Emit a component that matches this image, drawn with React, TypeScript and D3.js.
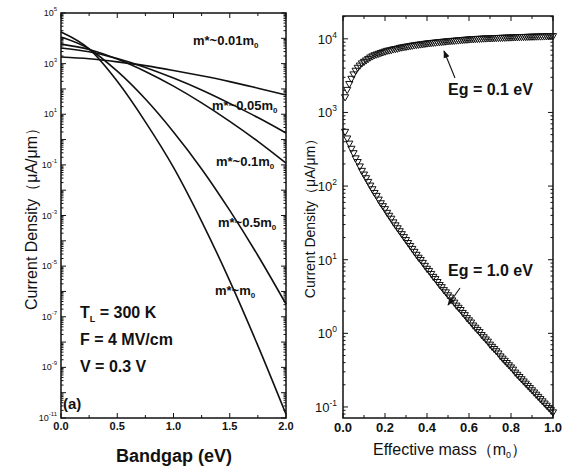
import React, { useEffect, useRef } from "react";
import * as d3 from "d3";

// ---- left panel: current density vs bandgap (log10 of uA/um) ----
const bandgapEv = [0, 0.25, 0.5, 0.75, 1.0, 1.25, 1.5, 1.75, 2.0];
const logJ_m001 = [3.26, 3.19, 3.07, 2.92, 2.73, 2.52, 2.29, 2.03, 1.76];
const logJ_m005 = [3.62, 3.47, 3.2, 2.85, 2.43, 1.96, 1.43, 0.87, 0.26];
const logJ_m01 = [3.77, 3.56, 3.18, 2.69, 2.11, 1.45, 0.72, -0.07, -0.93];
const logJ_m05 = [4.05, 3.58, 2.7, 1.6, 0.3, -1.16, -2.8, -4.58, -6.5];
const logJ_m1 = [4.25, 3.58, 2.3, 0.7, -1.1, -3.23, -5.58, -8.14, -10.85];

const leftSeries = [logJ_m001, logJ_m005, logJ_m01, logJ_m05, logJ_m1];
const leftLabels = [
  { main: "m*~0.01m", x: 193, y: 45 },
  { main: "m*~0.05m", x: 212, y: 110 },
  { main: "m*~0.1m", x: 216, y: 166 },
  { main: "m*~0.5m", x: 218, y: 227 },
  { main: "m*~m", x: 215, y: 295 },
];

// ---- right panel: current density vs effective mass, 0.01 .. 1.00 step 0.01 ----
const massStep = 0.01;
const logJ_eg01 = [
  3.2, 3.3, 3.38, 3.45, 3.51, 3.56, 3.6, 3.63, 3.66, 3.68,
  3.7, 3.72, 3.74, 3.755, 3.77, 3.78, 3.79, 3.8, 3.81, 3.82,
  3.83, 3.835, 3.84, 3.85, 3.855, 3.86, 3.87, 3.875, 3.88, 3.885,
  3.89, 3.895, 3.9, 3.905, 3.91, 3.913, 3.917, 3.92, 3.925, 3.93,
  3.933, 3.936, 3.939, 3.942, 3.945, 3.948, 3.951, 3.954, 3.957, 3.96,
  3.962, 3.965, 3.967, 3.97, 3.972, 3.975, 3.977, 3.98, 3.982, 3.985,
  3.987, 3.988, 3.99, 3.992, 3.993, 3.995, 3.997, 3.998, 4.0, 4.0,
  4.001, 4.002, 4.004, 4.005, 4.006, 4.007, 4.008, 4.01, 4.011, 4.012,
  4.013, 4.014, 4.015, 4.016, 4.017, 4.018, 4.019, 4.02, 4.021, 4.022,
  4.023, 4.024, 4.025, 4.025, 4.026, 4.027, 4.028, 4.028, 4.029, 4.03,
];
const logJ_eg10 = [
  2.73, 2.64, 2.57, 2.5, 2.44, 2.37, 2.32, 2.26, 2.2, 2.15,
  2.1, 2.05, 2.0, 1.95, 1.9, 1.86, 1.81, 1.76, 1.72, 1.68,
  1.63, 1.59, 1.55, 1.5, 1.46, 1.42, 1.38, 1.34, 1.3, 1.26,
  1.22, 1.18, 1.14, 1.1, 1.06, 1.02, 0.99, 0.95, 0.91, 0.87,
  0.84, 0.8, 0.76, 0.73, 0.69, 0.65, 0.62, 0.58, 0.55, 0.51,
  0.48, 0.44, 0.41, 0.37, 0.34, 0.31, 0.27, 0.24, 0.2, 0.17,
  0.14, 0.1, 0.07, 0.04, 0.01, -0.03, -0.06, -0.09, -0.12, -0.16,
  -0.19, -0.22, -0.25, -0.28, -0.32, -0.35, -0.38, -0.41, -0.44, -0.47,
  -0.5, -0.54, -0.57, -0.6, -0.63, -0.66, -0.69, -0.72, -0.75, -0.78,
  -0.81, -0.84, -0.87, -0.9, -0.93, -0.96, -0.99, -1.02, -1.05, -1.08,
];

const leftXTicks = [0, 0.5, 1.0, 1.5, 2.0];
const leftYLabelExp = [5, 3, 1, -1, -3, -5, -7, -9, -11];
const rightXTicks = [0, 0.2, 0.4, 0.6, 0.8, 1.0];
const rightYLabelExp = [4, 3, 2, 1, 0, -1];

const FONT = "'Liberation Sans', Arial, sans-serif";

const App = () => {
  const svgRef = useRef<SVGSVGElement>(null);

  useEffect(() => {
    const svg = d3.select(svgRef.current);
    svg.selectAll("*").remove();

    const xL = d3.scaleLinear().domain([0, 2]).range([61, 286]);
    const yL = d3.scaleLog().domain([1e-11, 1e5]).range([418, 13]);
    const xR = d3.scaleLinear().domain([0, 1]).range([343, 553]);
    const yR = d3
      .scaleLog()
      .domain([Math.pow(10, -1.15), Math.pow(10, 4.31)])
      .range([418, 16]);

    svg
      .append("defs")
      .append("marker")
      .attr("id", "arrowhead")
      .attr("viewBox", "0 0 10 10")
      .attr("refX", 9)
      .attr("refY", 5)
      .attr("markerWidth", 7)
      .attr("markerHeight", 7)
      .attr("orient", "auto")
      .append("path")
      .attr("d", "M0,1 L10,5 L0,9 Z")
      .attr("fill", "#111");

    // frame + inward ticks for one panel
    const drawFrame = (x, y, xMinor, xMajorEvery, decades) => {
      const [x0, x1] = x.range();
      const [y0, y1] = y.range();
      const g = svg.append("g").attr("stroke", "#111").attr("fill", "none");
      g.append("rect")
        .attr("x", x0)
        .attr("y", y1)
        .attr("width", x1 - x0)
        .attr("height", y0 - y1)
        .attr("stroke-width", 1.5);

      xMinor.forEach((v, i) => {
        const len = i % xMajorEvery === 0 ? 5 : 3;
        const px = x(v);
        g.append("line").attr("x1", px).attr("x2", px).attr("y1", y0).attr("y2", y0 - len);
        g.append("line").attr("x1", px).attr("x2", px).attr("y1", y1).attr("y2", y1 + len);
      });

      const [dlo, dhi] = y.domain();
      decades.forEach((e) => {
        for (let k = 1; k <= 9; k++) {
          const v = k * Math.pow(10, e);
          if (v < dlo * 0.999 || v > dhi * 1.001) continue;
          const len = k === 1 ? 5 : 2.5;
          const py = y(v);
          g.append("line").attr("x1", x0).attr("x2", x0 + len).attr("y1", py).attr("y2", py);
          g.append("line").attr("x1", x1).attr("x2", x1 - len).attr("y1", py).attr("y2", py);
        }
      });
    };

    drawFrame(xL, yL, d3.range(0, 2.001, 0.25), 2, d3.range(-11, 6));
    drawFrame(xR, yR, d3.range(0, 1.001, 0.1), 2, d3.range(-2, 5));

    // ---- left curves ----
    const lineL = d3
      .line<number>()
      .x((_, i) => xL(bandgapEv[i]))
      .y((d) => yL(Math.pow(10, d)))
      .curve(d3.curveMonotoneX);

    svg
      .append("g")
      .selectAll("path")
      .data(leftSeries)
      .join("path")
      .attr("d", (d) => lineL(d))
      .attr("fill", "none")
      .attr("stroke", "#111")
      .attr("stroke-width", 1.6);

    // ---- right markers (open down-triangles) ----
    const tri = "M-3.6,-3 L3.6,-3 L0,3.2 Z";
    [logJ_eg01, logJ_eg10].forEach((series) => {
      svg
        .append("g")
        .selectAll("path")
        .data(series)
        .join("path")
        .attr("d", tri)
        .attr(
          "transform",
          (d, i) => `translate(${xR((i + 1) * massStep)},${yR(Math.pow(10, d))})`
        )
        .attr("fill", "none")
        .attr("stroke", "#111")
        .attr("stroke-width", 1);
    });

    // ---- tick labels ----
    const txt = svg.append("g").attr("font-family", FONT).attr("fill", "#111");

    leftXTicks.forEach((v) => {
      txt
        .append("text")
        .attr("x", xL(v))
        .attr("y", 430)
        .attr("text-anchor", "middle")
        .attr("font-size", 11)
        .attr("font-weight", "bold")
        .text(v.toFixed(1));
    });

    leftYLabelExp.forEach((e) => {
      const t = txt
        .append("text")
        .attr("x", 57)
        .attr("y", yL(Math.pow(10, e)) + 3)
        .attr("text-anchor", "end")
        .attr("font-size", 9);
      t.append("tspan").text("10");
      t.append("tspan").attr("dy", -5).attr("font-size", 6).text(String(e));
    });

    rightXTicks.forEach((v) => {
      txt
        .append("text")
        .attr("x", xR(v))
        .attr("y", 432)
        .attr("text-anchor", "middle")
        .attr("font-size", 13)
        .attr("font-weight", "bold")
        .text(v.toFixed(1));
    });

    rightYLabelExp.forEach((e) => {
      const t = txt
        .append("text")
        .attr("x", 337)
        .attr("y", yR(Math.pow(10, e)) + 5)
        .attr("text-anchor", "end")
        .attr("font-size", 13);
      t.append("tspan").text("10");
      t.append("tspan").attr("dy", -6).attr("font-size", 8.5).text(String(e));
    });

    // ---- axis titles ----
    txt
      .append("text")
      .attr("x", 174)
      .attr("y", 462)
      .attr("text-anchor", "middle")
      .attr("font-size", 18)
      .attr("font-weight", "bold")
      .text("Bandgap (eV)");

    txt
      .append("text")
      .attr("transform", `translate(37,215) rotate(-90)`)
      .attr("text-anchor", "middle")
      .attr("font-size", 16)
      .text("Current Density（μA/μm）");

    txt
      .append("text")
      .attr("transform", `translate(315,215) rotate(-90)`)
      .attr("text-anchor", "middle")
      .attr("font-size", 14)
      .text("Current Density（μA/μm）");

    const effT = txt
      .append("text")
      .attr("x", 450)
      .attr("y", 455)
      .attr("text-anchor", "middle")
      .attr("font-size", 16);
    effT.append("tspan").text("Effective mass（m");
    effT.append("tspan").attr("dy", 3).attr("font-size", 9).text("0");
    effT.append("tspan").attr("dy", -3).text("）");

    // ---- curve labels (left) ----
    leftLabels.forEach((l) => {
      const t = txt
        .append("text")
        .attr("x", l.x)
        .attr("y", l.y)
        .attr("font-size", 13)
        .attr("font-weight", "bold");
      t.append("tspan").text(l.main);
      t.append("tspan").attr("dy", 3).attr("font-size", 8).text("0");
    });

    // ---- conditions ----
    const cond = txt.append("g").attr("font-size", 16).attr("font-weight", "bold");
    const t1 = cond.append("text").attr("x", 80).attr("y", 318);
    t1.append("tspan").text("T");
    t1.append("tspan").attr("dy", 4).attr("font-size", 9).text("L");
    t1.append("tspan").attr("dy", -4).text(" = 300 K");
    cond.append("text").attr("x", 80).attr("y", 345).text("F  = 4 MV/cm");
    cond.append("text").attr("x", 80).attr("y", 372).text("V  = 0.3 V");
    txt
      .append("text")
      .attr("x", 63)
      .attr("y", 409)
      .attr("font-size", 15)
      .attr("font-weight", "bold")
      .text("(a)");

    // ---- right annotations ----
    txt
      .append("text")
      .attr("x", 448)
      .attr("y", 95)
      .attr("font-size", 16)
      .attr("font-weight", "bold")
      .text("Eg = 0.1 eV");
    txt
      .append("text")
      .attr("x", 448)
      .attr("y", 276)
      .attr("font-size", 16)
      .attr("font-weight", "bold")
      .text("Eg = 1.0 eV");

    const arrows = svg.append("g").attr("stroke", "#111").attr("stroke-width", 1.1);
    arrows
      .append("line")
      .attr("x1", 455)
      .attr("y1", 78)
      .attr("x2", 444)
      .attr("y2", 51)
      .attr("marker-end", "url(#arrowhead)");
    arrows
      .append("line")
      .attr("x1", 460)
      .attr("y1", 288)
      .attr("x2", 448)
      .attr("y2", 305)
      .attr("marker-end", "url(#arrowhead)");
  }, []);

  return (
    <svg
      ref={svgRef}
      width={565}
      height={472}
      style={{ position: "absolute", left: 0, top: 0, background: "white" }}
    ></svg>
  );
};

export default App;
